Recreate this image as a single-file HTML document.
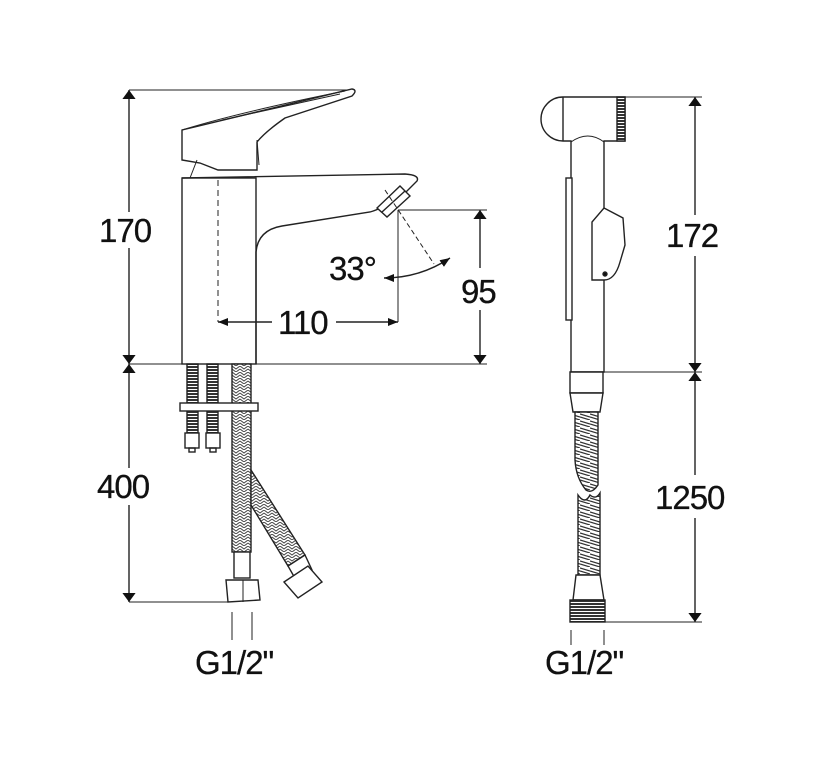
<!DOCTYPE html>
<html><head><meta charset="utf-8"><style>
html,body{margin:0;padding:0;background:#fff}
svg{display:block}
text{font-family:"Liberation Sans",sans-serif;font-size:33px;fill:#111;letter-spacing:-1px;stroke:#111;stroke-width:0.3px}
</style></head><body>
<svg width="833" height="772" viewBox="0 0 833 772" xmlns="http://www.w3.org/2000/svg">
<defs>
<pattern id="dk" width="6" height="3" patternUnits="userSpaceOnUse"><rect width="6" height="3" fill="#fff"/><rect width="6" height="2" fill="#333"/></pattern>
<pattern id="br" width="8" height="6" patternUnits="userSpaceOnUse"><rect width="8" height="6" fill="#fff"/><path d="M0 0 L4 3 L8 0 M0 3 L4 6 L8 3" stroke="#444" stroke-width="1" fill="none"/></pattern>
<pattern id="sp" width="10" height="7" patternUnits="userSpaceOnUse"><rect width="10" height="7" fill="#fff"/><path d="M0 1 L10 4 M0 4 L10 7" stroke="#333" stroke-width="1.2"/></pattern>
<marker id="a" viewBox="0 0 10 10" refX="10" refY="5" markerWidth="10" markerHeight="10" orient="auto-start-reverse" markerUnits="userSpaceOnUse"><path d="M0 1 L10 5 L0 9z" fill="#111"/></marker>
<marker id="a2" viewBox="0 0 10 10" refX="10" refY="5" markerWidth="9" markerHeight="22" orient="auto-start-reverse" markerUnits="userSpaceOnUse" preserveAspectRatio="none"><path d="M0 2 L10 5 L0 8z" fill="#111"/></marker>
</defs>
<g stroke="#222" stroke-width="1.4" fill="none">
<line x1="129" y1="90" x2="355" y2="90" stroke-width="1"/>
<line x1="129" y1="364" x2="487" y2="364" stroke-width="1"/>
<line x1="129" y1="602" x2="228" y2="602" stroke-width="1"/>
<line x1="129" y1="90" x2="129" y2="212" marker-start="url(#a2)"/>
<line x1="129" y1="248" x2="129" y2="364" marker-end="url(#a2)"/>
<line x1="129" y1="364" x2="129" y2="468" marker-start="url(#a2)"/>
<line x1="129" y1="505" x2="129" y2="602" marker-end="url(#a2)"/>
<rect x="182" y="178" width="74" height="186" fill="#fff"/>
<path d="M182 178 L405 174 Q420 175 417 181 L406 192" />
<path d="M256 364 L256 252 Q258 230 282 226 L370 212 Q378 210 385 205"/>
<path d="M377 208 L400 186 L410 196 L387 217 Z" fill="#fff"/>
<line x1="382" y1="212" x2="405" y2="191"/>
<path d="M182 130 L182 160 L200 163 L218 170 L257 170 L257 142 Q265 132 285 118 L352 96 Q358 90 352 89 Z" fill="#fff"/>
<path d="M182 130 Q240 112 345 91" stroke-width="1"/>
<path d="M222 120 L340 94" stroke-width="1"/>
<path d="M197 160 L190 178" stroke-width="1"/>
<line x1="257" y1="140" x2="259" y2="165" stroke-width="1"/>
<line x1="218" y1="180" x2="218" y2="322" stroke-dasharray="6,4" stroke-width="1"/>
<line x1="218" y1="322" x2="272" y2="322" marker-start="url(#a)"/>
<line x1="336" y1="322" x2="398" y2="322" marker-end="url(#a)"/>
<line x1="398" y1="210" x2="398" y2="322" stroke-width="1"/>
<line x1="398" y1="210" x2="487" y2="210" stroke-width="1"/>
<line x1="480" y1="210" x2="480" y2="268" marker-start="url(#a2)"/>
<line x1="480" y1="310" x2="480" y2="364" marker-end="url(#a2)"/>
<line x1="385" y1="190" x2="434" y2="264" stroke-dasharray="5,3" stroke-width="1"/>
<path d="M384 278 Q420 278 450 258" marker-start="url(#a)" marker-end="url(#a)"/>
<rect x="187" y="364" width="11" height="69" fill="url(#dk)"/>
<rect x="207" y="364" width="11" height="69" fill="url(#dk)"/>
<rect x="232" y="364" width="19" height="188" fill="url(#br)"/>
<path d="M251 470 L305 555 L288 566 L251 505 Z" fill="url(#br)"/>
<rect x="180" y="403" width="78" height="8" fill="#fff"/>
<rect x="185" y="433" width="14" height="15" fill="#fff"/>
<rect x="206" y="433" width="14" height="15" fill="#fff"/>
<rect x="189" y="448" width="6" height="4"/><rect x="210" y="448" width="6" height="4"/>
<rect x="234" y="552" width="16" height="26" fill="#fff"/>
<path d="M226 580 L258 580 L260 600 L228 602 Z" fill="#fff"/>
<line x1="243" y1="580" x2="243" y2="602" stroke-width="1"/>
<path d="M288 566 L305 555 L312 570 L296 580 Z" fill="#fff"/>
<path d="M284 582 L308 566 L322 582 L298 598 Z" fill="#fff"/>
<line x1="232" y1="612" x2="232" y2="640" stroke-width="1"/>
<line x1="252" y1="612" x2="252" y2="640" stroke-width="1"/>
<line x1="600" y1="97" x2="702" y2="97" stroke-width="1"/>
<line x1="600" y1="372" x2="702" y2="372" stroke-width="1"/>
<line x1="605" y1="622" x2="702" y2="622" stroke-width="1"/>
<line x1="695" y1="97" x2="695" y2="215" marker-start="url(#a2)"/>
<line x1="695" y1="256" x2="695" y2="372" marker-end="url(#a2)"/>
<line x1="695" y1="372" x2="695" y2="475" marker-start="url(#a2)"/>
<line x1="695" y1="518" x2="695" y2="622" marker-end="url(#a2)"/>
<path d="M563 97 A22 22 0 0 0 563 141 L571 141 L571 372 L604 372 L604 141 L625 141 L625 97 Z" fill="#fff"/>
<line x1="563" y1="97" x2="563" y2="141"/>
<path d="M571 142 Q588 130 604 142" stroke-width="1"/>
<rect x="617" y="97" width="8" height="44" fill="url(#dk)"/>
<rect x="566" y="178" width="6" height="142" fill="#fff"/>
<path d="M592 230 L592 280 L604 280 Q615 280 620 262 L625 245 L623 218 L604 208 L592 222 Z" fill="#fff"/>
<circle cx="605" cy="274" r="2" fill="#111"/>
<path d="M570 372 L603 372 L603 393 L570 393 Z" fill="#fff"/>
<path d="M570 393 L603 393 L600 412 L573 412 Z" fill="#fff"/>
<path d="M575 412 L598 412 L598 485 Q592 494 586 490 Q576 478 575 460 Z" fill="url(#sp)"/>
<path d="M578 495 Q585 505 590 495 Q596 500 600 493 L600 575 L578 575 Z" fill="url(#sp)"/>
<path d="M576 575 L600 575 L604 600 L573 600 Z" fill="#fff"/>
<rect x="570" y="600" width="35" height="22" fill="url(#dk)"/>
<line x1="571" y1="630" x2="571" y2="645" stroke-width="1"/>
<line x1="604" y1="630" x2="604" y2="645" stroke-width="1"/>
</g>
<text x="99" y="242">170</text>
<text x="97" y="498">400</text>
<text x="278" y="334">110</text>
<text x="461" y="303">95</text>
<text x="329" y="280">33°</text>
<text x="666" y="247">172</text>
<text x="655" y="509">1250</text>
<text x="195" y="674">G1/2"</text>
<text x="545" y="674">G1/2"</text>
</svg>
</body></html>
